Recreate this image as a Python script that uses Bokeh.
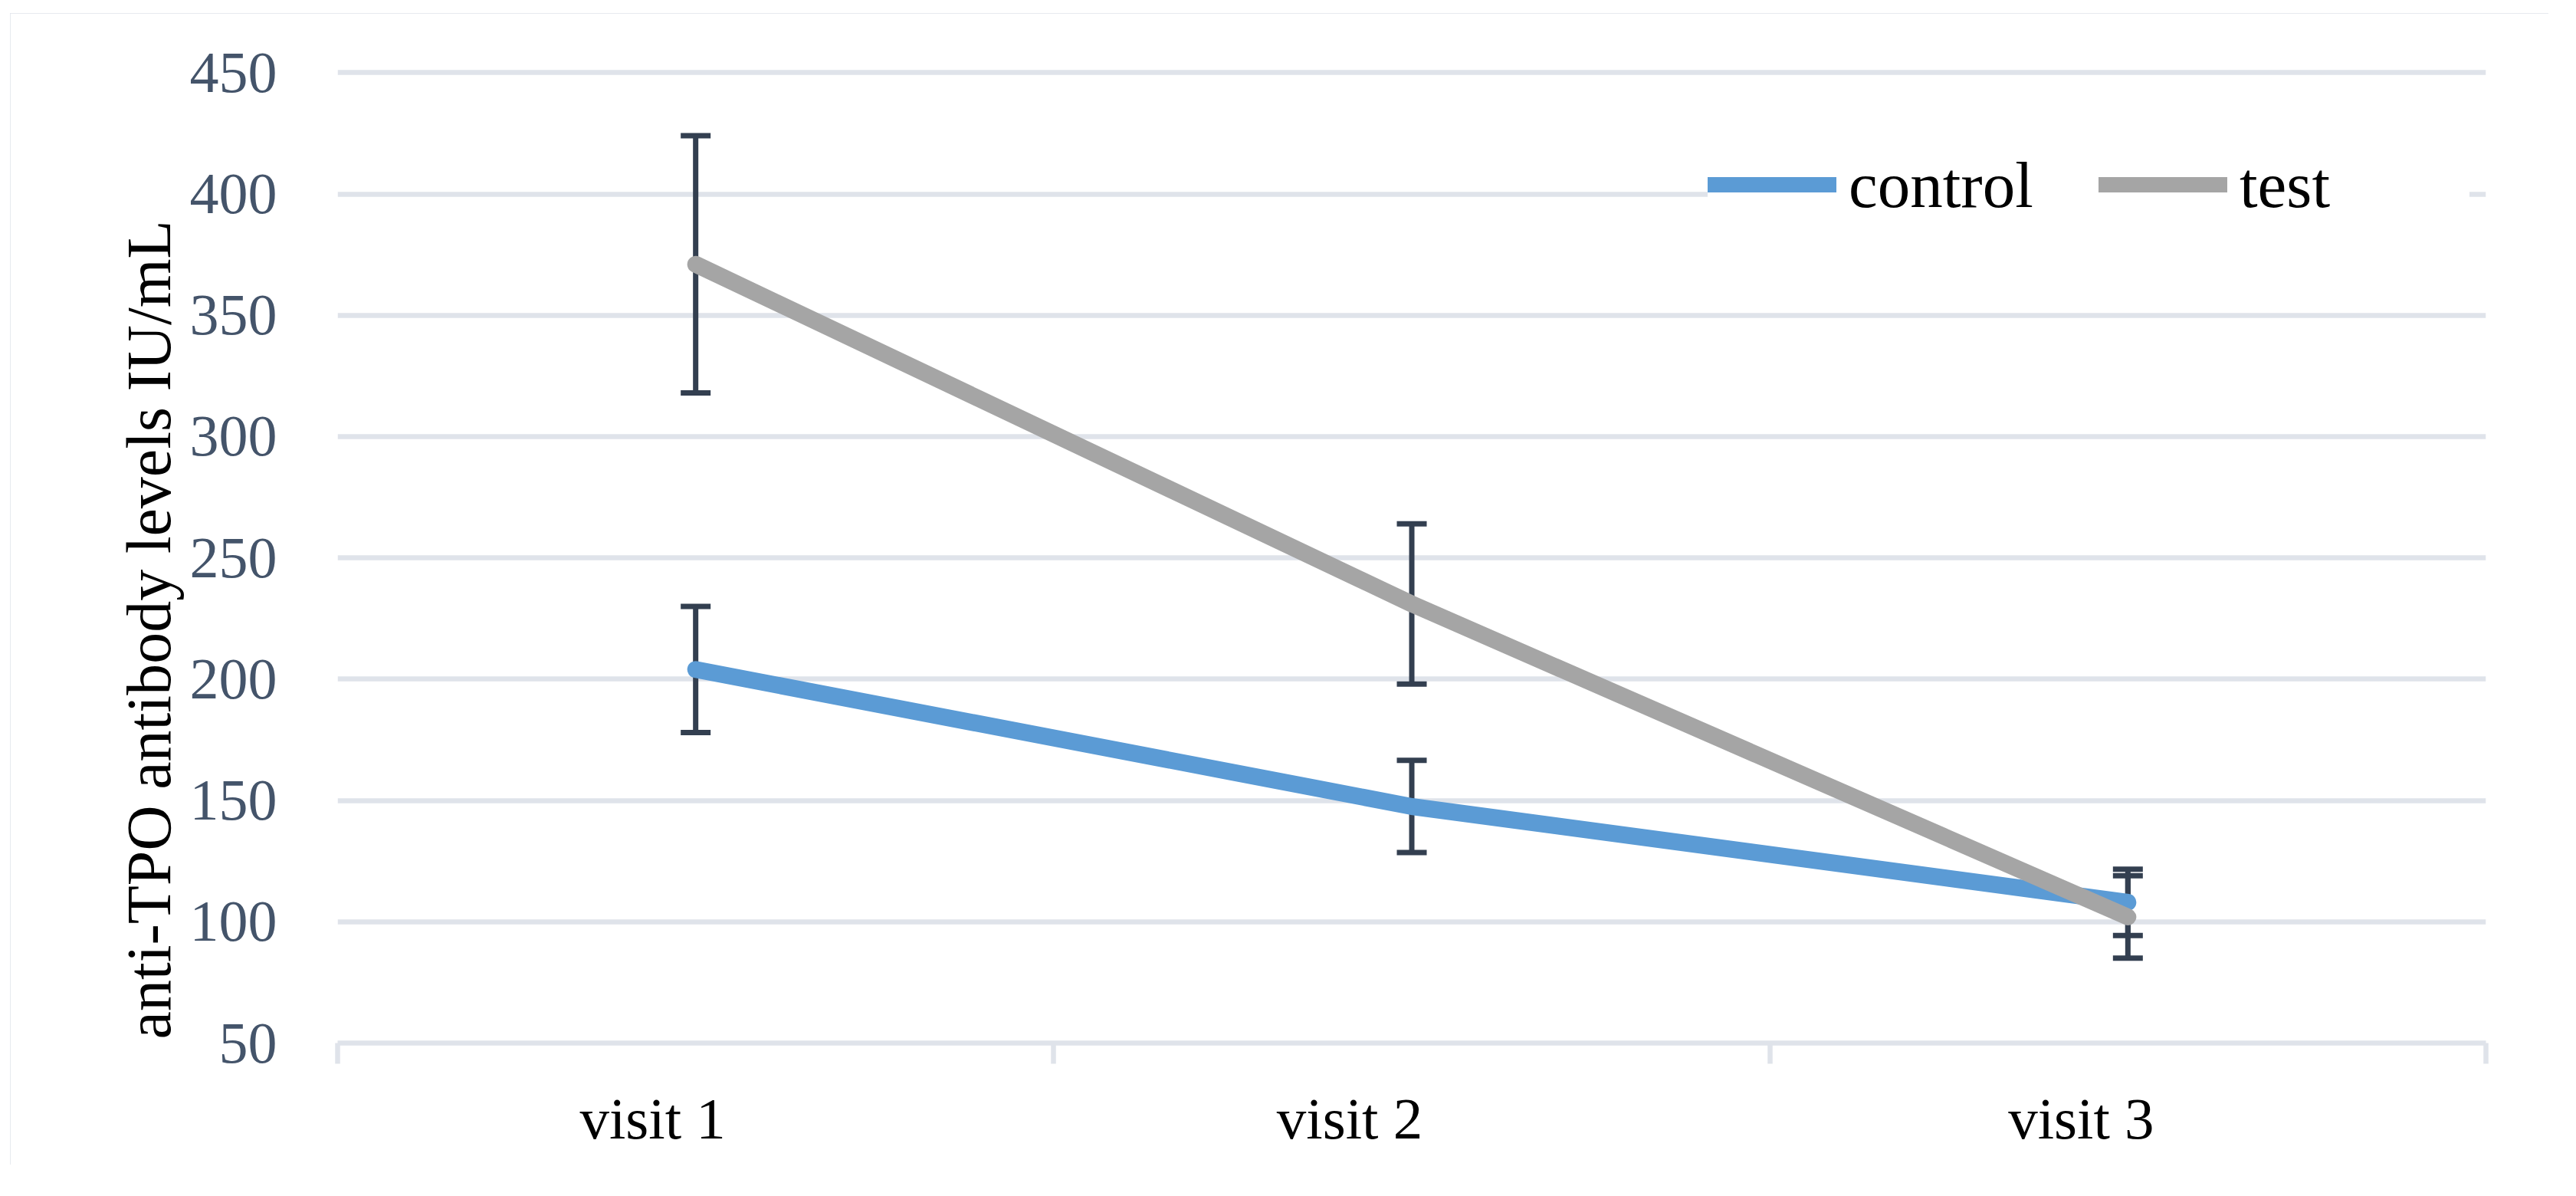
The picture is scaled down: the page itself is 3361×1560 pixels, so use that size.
from bokeh.plotting import figure
from bokeh.models import (Range1d, FixedTicker, Whisker, TeeHead, ColumnDataSource,
                          Legend, LegendItem, Title, CustomJSTickFormatter)
from bokeh.embed import file_html
from bokeh.resources import INLINE

# ---------------- data ----------------
categories = ["visit 1", "visit 2", "visit 3"]
control_mean = [204, 147.5, 108]
control_err = [26, 19, 13.7]
test_mean = [371, 231, 102]
test_err = [53, 33, 17]
y_ticks = [50, 100, 150, 200, 250, 300, 350, 400, 450]
series_names = ["control", "test"]
y_title = "anti-TPO antibody levels IU/mL"

# ---------------- style ----------------
FONT = "Liberation Serif"
GRID = "#dfe3ea"
TICK_TXT = "#44546a"
ERR = "#333f50"
BLUE = "#5b9bd5"
GRAY = "#a5a5a5"

W, H = 3312, 1502
ML, MR, MT, MB = 427, 82, 71, 159
FRAME_W = W - ML - MR
Y_PAD = 2  # small head-room so the top grid line is not clipped
LABEL_SHIFT_PX = [-56, -81, -61]

n = len(categories)
xs = [i + 0.5 for i in range(n)]
px_per_unit = FRAME_W / n

p = figure(width=W, height=H, output_backend="svg", toolbar_location=None,
           x_range=Range1d(0, n), y_range=Range1d(y_ticks[0], y_ticks[-1] + Y_PAD),
           min_border_left=ML, min_border_right=MR, min_border_top=MT, min_border_bottom=MB,
           margin=(17, 0, 0, 13),
           styles={"outline": f"6.5px solid {GRID}", "outline-offset": "-6.5px"})
p.outline_line_color = None
p.background_fill_color = "white"
p.border_fill_color = "white"

# grid
p.xgrid.grid_line_color = None
p.ygrid.ticker = FixedTicker(ticks=y_ticks)
p.ygrid.grid_line_color = GRID
p.ygrid.grid_line_width = 6.5

# y axis
p.yaxis.ticker = FixedTicker(ticks=y_ticks)
p.yaxis.axis_line_color = None
p.yaxis.major_tick_line_color = None
p.yaxis.minor_tick_line_color = None
p.yaxis.major_tick_out = 0
p.yaxis.major_tick_in = 0
p.yaxis.major_label_standoff = 79
p.yaxis.major_label_text_font = FONT
p.yaxis.major_label_text_font_size = "76px"
p.yaxis.major_label_text_color = TICK_TXT

# x axis: boundary ticks (minor) + category labels
label_pos = [x + s / px_per_unit for x, s in zip(xs, LABEL_SHIFT_PX)]
p.xaxis.ticker = FixedTicker(ticks=label_pos, minor_ticks=list(range(n + 1)))
p.xaxis.formatter = CustomJSTickFormatter(args=dict(labels=categories), code="return labels[index];")
p.xaxis.axis_line_color = GRID
p.xaxis.axis_line_width = 6.5
p.xaxis.major_tick_line_color = None
p.xaxis.major_tick_out = 0
p.xaxis.major_tick_in = 0
p.xaxis.minor_tick_line_color = GRID
p.xaxis.minor_tick_line_width = 6.5
p.xaxis.minor_tick_out = 27
p.xaxis.minor_tick_in = 0
p.xaxis.major_label_standoff = 28
p.xaxis.major_label_text_font = FONT
p.xaxis.major_label_text_font_size = "77px"
p.xaxis.major_label_text_color = "black"

# lines
r_control = p.line(xs, control_mean, line_width=22, line_color=BLUE,
                   line_cap="round", line_join="round")
r_test = p.line(xs, test_mean, line_width=22, line_color=GRAY,
                line_cap="round", line_join="round")

# error bars
for mean, err in ((control_mean, control_err), (test_mean, test_err)):
    src = ColumnDataSource(dict(x=xs,
                                upper=[m + e for m, e in zip(mean, err)],
                                lower=[m - e for m, e in zip(mean, err)]))
    w = Whisker(base="x", upper="upper", lower="lower", source=src,
                line_color=ERR, line_width=7,
                upper_head=TeeHead(size=39, line_color=ERR, line_width=7),
                lower_head=TeeHead(size=39, line_color=ERR, line_width=7))
    p.add_layout(w)

# legend
legend = Legend(items=[LegendItem(label=series_names[0], renderers=[r_control]),
                       LegendItem(label=series_names[1], renderers=[r_test])],
                orientation="horizontal", location=(1788, 1070),
                glyph_width=168, glyph_height=20, label_standoff=16, spacing=26,
                label_width=300, padding=10, margin=0,
                label_text_font=FONT, label_text_font_size="85px", label_text_color="black",
                background_fill_color="white", background_fill_alpha=1.0,
                border_line_color=None)
p.add_layout(legend)

# y title (left side panel, starting just above the bottom of the plot area)
p.add_layout(Title(text=y_title, align="left", offset=5,
                   text_font=FONT, text_font_size="82px", text_font_style="normal",
                   text_color="black", standoff=10), "left")

open("out.html", "w").write(file_html(p, INLINE))
